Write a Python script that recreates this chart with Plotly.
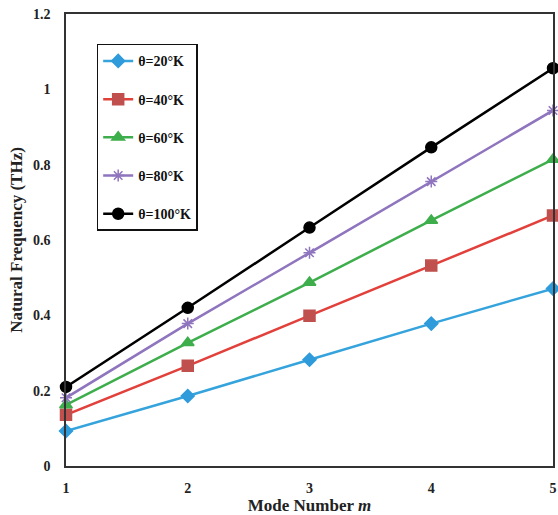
import plotly.graph_objects as go

modes = [1, 2, 3, 4, 5]
series_names = ["θ=20°K", "θ=40°K", "θ=60°K", "θ=80°K", "θ=100°K"]
freq_20 = [0.093, 0.186, 0.282, 0.378, 0.471]
freq_40 = [0.136, 0.266, 0.399, 0.532, 0.665]
freq_60 = [0.162, 0.327, 0.487, 0.652, 0.814]
freq_80 = [0.181, 0.378, 0.566, 0.755, 0.944]
freq_100 = [0.210, 0.420, 0.633, 0.846, 1.056]
y_ticks = [0, 0.2, 0.4, 0.6, 0.8, 1, 1.2]

series = [freq_20, freq_40, freq_60, freq_80, freq_100]
line_colors = ["#35A3DC", "#E2403B", "#3DAE4B", "#8F74BE", "#000000"]
marker_colors = ["#2F9BDB", "#C0504D", "#3DAE4B", "#8F74BE", "#000000"]
symbols = ["diamond", "square", "triangle-up", "asterisk-open", "circle"]
sizes = [10, 11, 11, 10, 11]

fig = go.Figure()
for i, (name, ys) in enumerate(zip(series_names, series)):
    fig.add_trace(go.Scatter(
        x=modes, y=ys, name=name, mode="lines+markers",
        legendgroup=f"g{i}",
        line=dict(color=line_colors[i], width=2.5),
        marker=dict(symbol=symbols[i], size=sizes[i], color=marker_colors[i],
                    line=dict(color=marker_colors[i], width=1.5)),
        cliponaxis=False,
    ))

font_family = "Liberation Serif"
fig.update_layout(
    width=558, height=515,
    margin=dict(l=66, r=1, t=14, b=49),
    plot_bgcolor="white", paper_bgcolor="white",
    font=dict(family=font_family, color="#222222"),
    showlegend=True,
    legend=dict(
        x=0.063, y=0.934, xanchor="left", yanchor="top",
        bordercolor="#111111", borderwidth=1.5, bgcolor="white",
        font=dict(family=font_family, size=14, color="#111111", weight="bold"),
        traceorder="grouped", tracegroupgap=17,
        itemwidth=30,
    ),
    xaxis=dict(
        range=[1, 5], tickvals=modes, ticktext=[str(m) for m in modes],
        showgrid=False, zeroline=False,
        showline=True, linecolor="#333333", linewidth=1.5, mirror=True,
        ticks="", ticklabelstandoff=8, ticklabeloverflow="allow",
        tickfont=dict(family=font_family, size=14, color="#222222", weight="bold"),
        title=dict(text="Mode Number <i>m</i>", standoff=6,
                   font=dict(family=font_family, size=17, color="#222222", weight="bold")),
    ),
    yaxis=dict(
        range=[0, 1.2], tickvals=y_ticks, ticktext=["0", "0.2", "0.4", "0.6", "0.8", "1", "1.2"],
        showgrid=False, zeroline=False,
        showline=True, linecolor="#333333", linewidth=1.5, mirror=True,
        ticks="", ticklabelstandoff=11, ticklabeloverflow="allow",
        tickfont=dict(family=font_family, size=14, color="#222222", weight="bold"),
        title=dict(text="Natural Frequency (THz)", standoff=6,
                   font=dict(family=font_family, size=17, color="#222222", weight="bold")),
    ),
)

fig.write_html("out.html", config={"displayModeBar": False},
               post_script="document.body.style.margin='0';document.body.style.overflow='hidden';")
